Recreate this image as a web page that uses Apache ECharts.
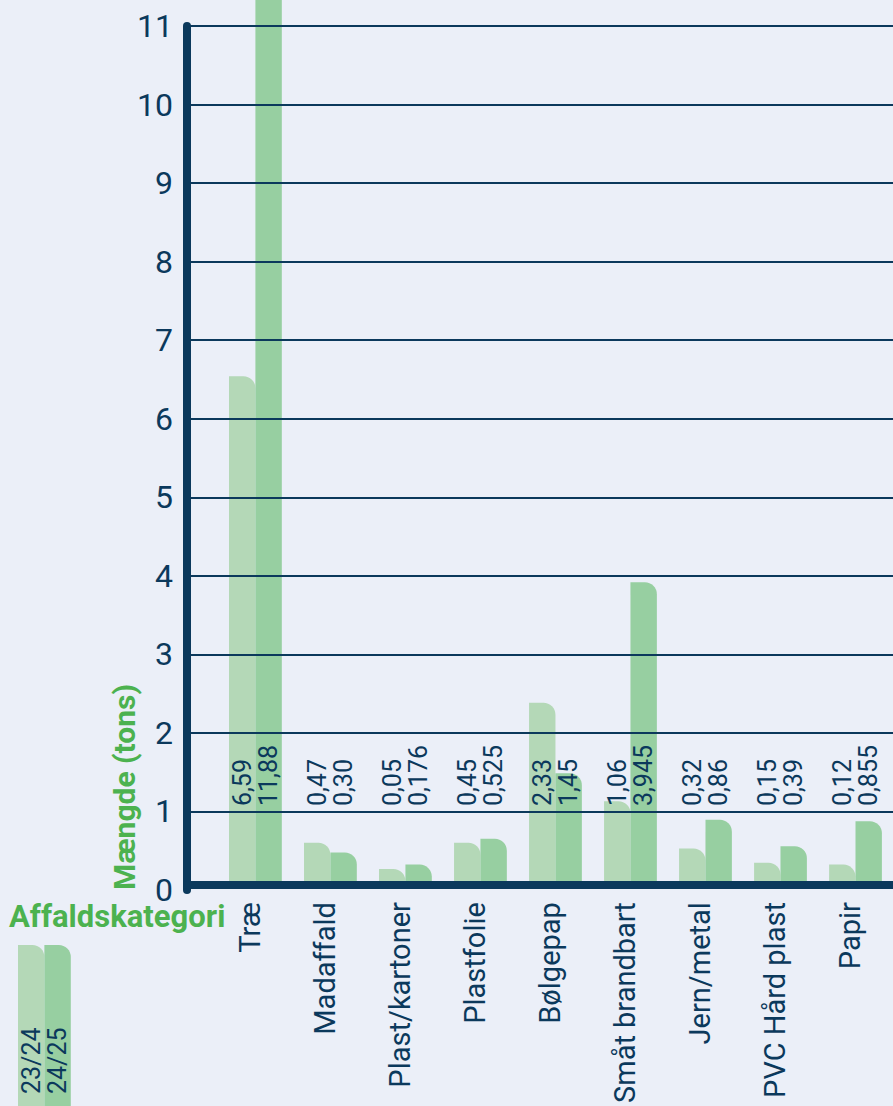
<!DOCTYPE html>
<html>
<head>
<meta charset="utf-8">
<script src="https://cdn.jsdelivr.net/npm/echarts@6/dist/echarts.min.js"></script>
<style>
html,body{margin:0;padding:0;background:#ebeff8;}
#chart{width:893px;height:1106px;}
</style>
</head>
<body>
<div id="chart"></div>
<script>
// ---- data ----
const categories = ['Træ','Madaffald','Plast/kartoner','Plastfolie','Bølgepap','Småt brandbart','Jern/metal','PVC Hård plast','Papir'];
const seriesNames = ['23/24','24/25'];
// bar heights as drawn in the picture (tons)
const values2324 = [6.52, 0.555, 0.22, 0.555, 2.345, 1.085, 0.48, 0.30, 0.275];
const values2425 = [11.88, 0.43, 0.275, 0.605, 1.445, 3.885, 0.85, 0.51, 0.83];
// printed value labels
const labels2324 = ['6,59','0,47','0,05','0,45','2,33','1,06','0,32','0,15','0,12'];
const labels2425 = ['11,88','0,30','0,176','0,525','1,45','3,945','0,86','0,39','0,855'];
const yTicks = [0,1,2,3,4,5,6,7,8,9,10,11];
const yAxisName = 'Mængde (tons)';
const xAxisName = 'Affaldskategori';

const NAVY = '#0b395c';
const GREEN = '#4cb24f';
const LIGHT = '#b4d8b7';
const DARK = '#97cfa1';
const FONT = 'Roboto';

const chart = echarts.init(document.getElementById('chart'), null, {renderer:'svg'});

function valueLabel(arr){
  return {
    show:true, position:'insideBottom', distance:84, rotate:90,
    align:'left', verticalAlign:'middle', offset:[-4,0],
    fontFamily:FONT, fontSize:25, color:NAVY,
    formatter: p => arr[p.dataIndex]
  };
}

const option = {
  backgroundColor:'#ebeff8',
  animation:false,
  grid:[
    {left:187, right:0, top:26, bottom:216},
    {left:217.9, right:-11.1, top:26, bottom:216}
  ],
  xAxis:[
    {gridIndex:0, type:'value', min:0, max:1, offset:-5, z:6,
     axisLine:{show:true, onZero:false, lineStyle:{color:NAVY, width:8}},
     axisTick:{show:false}, axisLabel:{show:false}, splitLine:{show:false}},
    {gridIndex:1, type:'category', data:categories,
     axisLine:{show:false}, axisTick:{show:false}, splitLine:{show:false},
     axisLabel:{rotate:90, margin:16, fontFamily:FONT, fontSize:29, color:NAVY, interval:0,
                align:'right', verticalAlign:'bottom', lineHeight:10}}
  ],
  yAxis:[
    {gridIndex:0, type:'value', min:yTicks[0], max:yTicks[yTicks.length-1], interval:1, z:5,
     axisLine:{show:true, lineStyle:{color:NAVY, width:8}},
     axisTick:{show:false},
     axisLabel:{margin:14, fontFamily:FONT, fontSize:32, lineHeight:24, color:NAVY},
     splitLine:{show:true, showMinLine:false, lineStyle:{color:NAVY, width:2}}},
    {gridIndex:1, type:'value', min:yTicks[0], max:yTicks[yTicks.length-1], show:false}
  ],
  series:[
    {name:seriesNames[0], type:'bar', xAxisIndex:1, yAxisIndex:1, data:values2324,
     barWidth:26.4, barGap:'0%', clip:false,
     itemStyle:{color:LIGHT, borderRadius:[0,12,0,0]},
     label:valueLabel(labels2324)},
    {name:seriesNames[1], type:'bar', xAxisIndex:1, yAxisIndex:1, data:values2425,
     barWidth:26.4, barGap:'0%', clip:false,
     itemStyle:{color:DARK, borderRadius:[0,12,0,0]},
     label:valueLabel(labels2425)}
  ],
  graphic:[
    {type:'text', x:124, y:890, rotation:Math.PI/2, z:10,
     style:{text:yAxisName, fontFamily:FONT, fontWeight:'bold', fontSize:30, lineHeight:26, fill:GREEN, align:'left', verticalAlign:'middle'}},
    {type:'text', x:9, y:916, z:10,
     style:{text:xAxisName, fontFamily:FONT, fontWeight:'bold', fontSize:31, lineHeight:24, fill:GREEN, align:'left', verticalAlign:'middle'}},
    {type:'rect', shape:{x:18, y:945, width:26.4, height:200, r:[0,12,0,0]}, style:{fill:LIGHT}},
    {type:'rect', shape:{x:44.4, y:945, width:26.4, height:200, r:[0,12,0,0]}, style:{fill:DARK}},
    {type:'text', x:31.2, y:1094, rotation:Math.PI/2, z:10,
     style:{text:seriesNames[0], fontFamily:FONT, fontSize:25, fill:NAVY, align:'left', verticalAlign:'middle'}},
    {type:'text', x:57.6, y:1094, rotation:Math.PI/2, z:10,
     style:{text:seriesNames[1], fontFamily:FONT, fontSize:25, fill:NAVY, align:'left', verticalAlign:'middle'}}
  ]
};
chart.setOption(option);
</script>
</body>
</html>
